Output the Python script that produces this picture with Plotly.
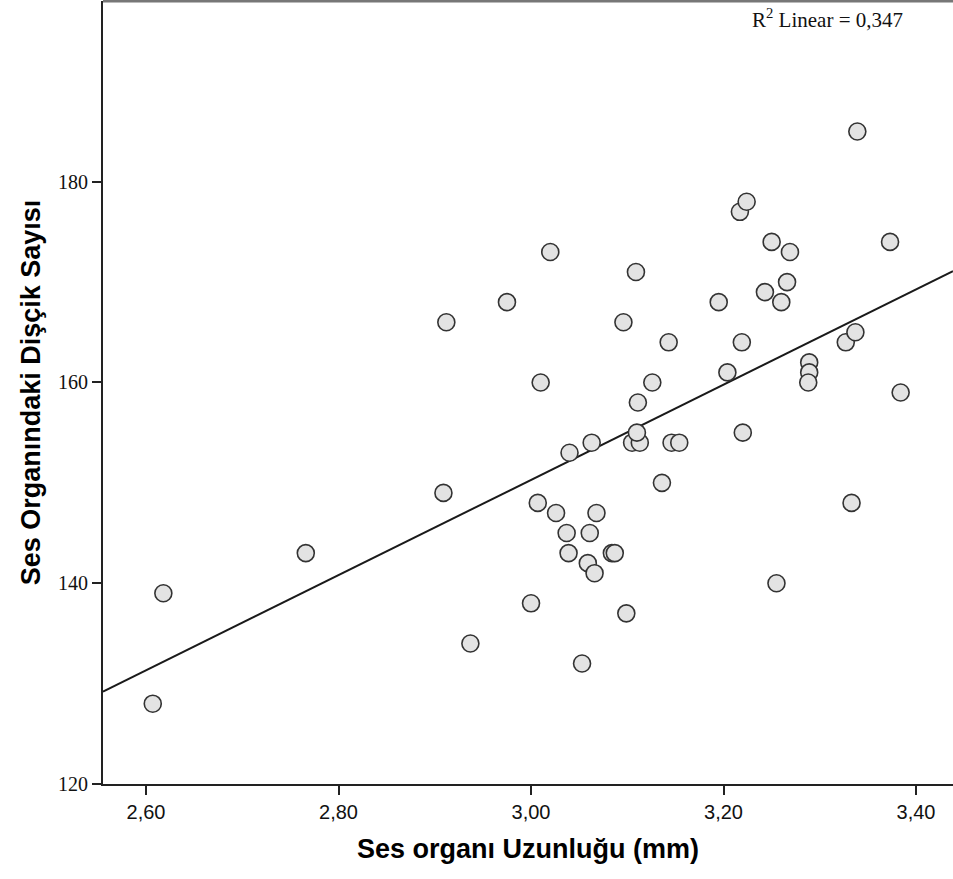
import numpy as np
import plotly.graph_objects as go

# Data
length_mm = [2.607, 2.618, 2.766, 2.909, 2.912, 2.937, 2.975, 3.000, 3.007, 3.010,
             3.020, 3.026, 3.037, 3.039, 3.040, 3.053, 3.059, 3.061, 3.063, 3.066,
             3.068, 3.084, 3.087, 3.096, 3.099, 3.105, 3.113, 3.110, 3.111, 3.109,
             3.126, 3.136, 3.143, 3.146, 3.154, 3.195, 3.204, 3.217, 3.224, 3.219,
             3.220, 3.243, 3.250, 3.255, 3.260, 3.266, 3.269, 3.289, 3.289, 3.288,
             3.327, 3.333, 3.337, 3.339, 3.373, 3.384]
teeth_count = [128, 139, 143, 149, 166, 134, 168, 138, 148, 160,
               173, 147, 145, 143, 153, 132, 142, 145, 154, 141,
               147, 143, 143, 166, 137, 154, 154, 155, 158, 171,
               160, 150, 164, 154, 154, 168, 161, 177, 178, 164,
               155, 169, 174, 140, 168, 170, 173, 162, 161, 160,
               164, 148, 165, 185, 174, 159]

x_ticks = [2.6, 2.8, 3.0, 3.2, 3.4]
x_tick_labels = ["2,60", "2,80", "3,00", "3,20", "3,40"]
y_ticks = [120, 140, 160, 180]
y_tick_labels = ["120", "140", "160", "180"]
x_range = [2.5553, 3.4384]
y_range = [120, 198]
r2_text = "R<sup>2</sup> Linear = 0,347"

slope, intercept = np.polyfit(length_mm, teeth_count, 1)
line_x = np.array(x_range)
line_y = slope * line_x + intercept

fig = go.Figure()
fig.add_trace(go.Scatter(
    x=line_x, y=line_y, mode="lines",
    line=dict(color="#1a1a1a", width=2), hoverinfo="skip", showlegend=False))
fig.add_trace(go.Scatter(
    x=length_mm, y=teeth_count, mode="markers",
    marker=dict(size=17, color="#e3e3e3", line=dict(color="#333333", width=1.6)),
    showlegend=False))

fig.add_annotation(
    x=0.944, y=0.997, xref="paper", yref="paper", xanchor="right", yanchor="top",
    text=r2_text, showarrow=False,
    font=dict(family="Liberation Serif, Times New Roman, serif", size=21, color="#111111"))

fig.update_layout(
    width=953, height=879,
    margin=dict(l=103, r=0, t=1, b=95),
    paper_bgcolor="white", plot_bgcolor="white",
    xaxis=dict(
        range=x_range, tickvals=x_ticks, ticktext=x_tick_labels,
        showgrid=False, zeroline=False,
        showline=True, linecolor="#222222", linewidth=2, mirror=False,
        ticks="outside", ticklen=9, tickwidth=2, tickcolor="#222222",
        tickfont=dict(family="Liberation Sans Narrow, Liberation Sans, Arial Narrow, sans-serif", size=20, color="#111111"),
        title=dict(text="<b>Ses organı Uzunluğu (mm)</b>", standoff=17,
                   font=dict(family="Liberation Sans, Arial, sans-serif", size=27, color="#000000")),
    ),
    yaxis=dict(
        range=y_range, tickvals=y_ticks, ticktext=y_tick_labels,
        showgrid=False, zeroline=False,
        showline=True, linecolor="#222222", linewidth=2,
        ticks="outside", ticklen=9, tickwidth=2, tickcolor="#222222",
        tickfont=dict(family="Liberation Serif, Times New Roman, serif", size=20, color="#111111"),
        title=dict(text="<b>Ses Organındaki Dişçik Sayısı</b>", standoff=10,
                   font=dict(family="Liberation Sans, Arial, sans-serif", size=27, color="#000000")),
    ),
)

# top border of plot frame
fig.add_shape(type="line", xref="paper", yref="paper", x0=0, x1=1, y0=1, y1=1,
              line=dict(color="#777777", width=3))

fig.write_html("out.html")
